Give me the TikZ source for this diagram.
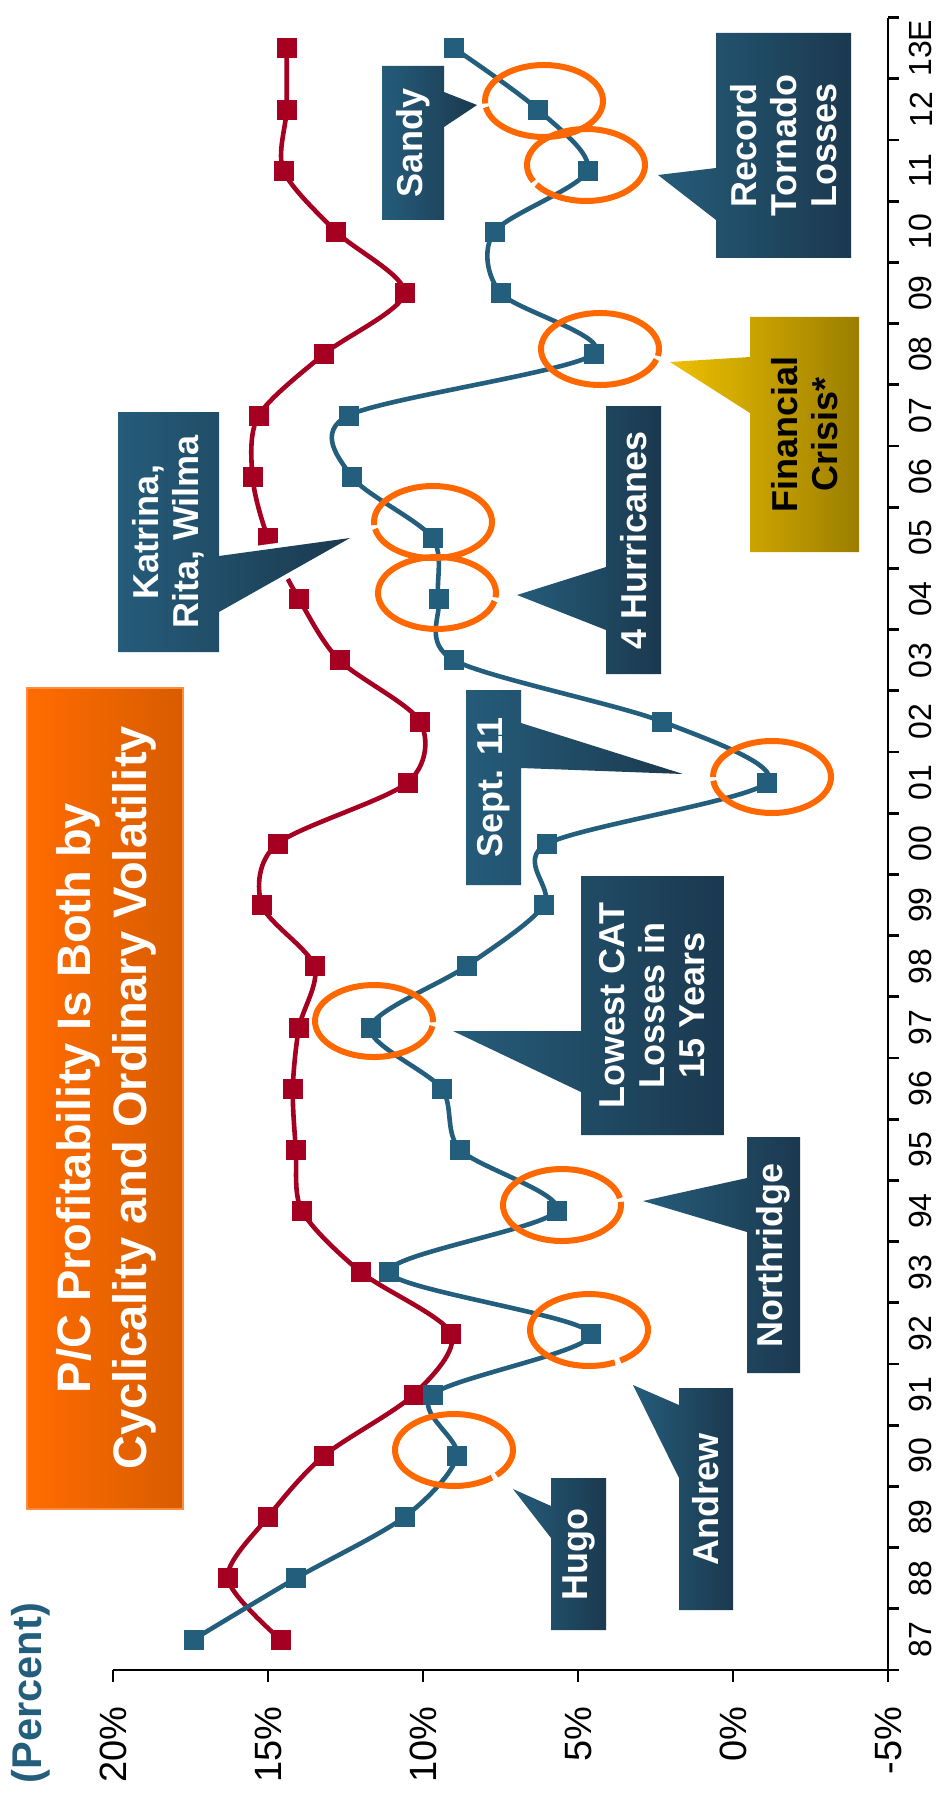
\documentclass[tikz,border=0pt]{standalone}
\usepackage{fontspec}
\usetikzlibrary{plotmarks}
\setmainfont{Liberation Sans}
\definecolor{lossred}{RGB}{165,0,33}
\definecolor{rnwblue}{RGB}{36,94,125}
\definecolor{hoopclr}{RGB}{255,104,0}
\definecolor{calllight}{RGB}{37,92,122}
\definecolor{calldark}{RGB}{27,57,79}
\definecolor{goldlight}{RGB}{238,192,0}
\definecolor{golddark}{RGB}{156,126,0}
\definecolor{titlelight}{RGB}{255,108,0}
\definecolor{titledark}{RGB}{216,92,0}

\begin{document}
\begin{tikzpicture}[x=0.5pt, y=-0.5pt,
    axis/.style={black, line width=1.4pt},
    series/.style={line width=2.3pt, mark=square*, mark size=4.75pt, mark options={line width=0.3pt}},
    hoop/.style={hoopclr, line width=3pt},
    callout/.style={left color=calllight, right color=calldark, preaction={draw=white, line width=5pt, line join=round}},
    goldout/.style={left color=goldlight, right color=golddark, preaction={draw=white, line width=5pt, line join=round}},
    calltext/.style={rotate=90, text=white, align=center, font=\bfseries\fontsize{18}{20}\selectfont},
  ]
  \useasboundingbox (0,0) rectangle (941,1797);

  % Title and unit
  \path[left color=titlelight, right color=titledark, draw={rgb,255:red,255;green,140;blue,60}, line width=0.6pt] (27,688) rectangle (183,1509);
  \node[rotate=90, text=white, align=center, font=\bfseries\fontsize{23.5}{28}\selectfont] (title) at (106,1098) {P/C Profitability Is Both by\\Cyclicality and Ordinary Volatility};
  \node[rotate=90, text=rnwblue, font=\bfseries\fontsize{20.8}{24}\selectfont] (unit) at (31,1693) {(Percent)};

  % Chart in (percent, year) units
  \begin{scope}[shift={(733,1639.4)}, x={(-15.5pt,0pt)}, y={(0pt,30.6pt)}]
    \draw[axis] (20,-0.5) -- (-5,-0.5) -- (-5,26.5);
    \foreach \v [count=\n] in {20,15,...,-5} {
      \draw[axis] (\v,-0.5) -- ++(0,-0.2);
      \node[rotate=90, anchor=east, font=\fontsize{19}{22}\selectfont] (pct\n) at (\v,-0.98) {\v\%};
    }
    \foreach \k in {0,...,27}
      \draw[axis] (-5,\k-0.5) -- ++(-0.35,0);
    \foreach \yr [count=\i from 0] in {87,88,89,90,91,92,93,94,95,96,97,98,99,00,01,02,03,04,05,06,07,08,09,10,11,12,13E}
      \node[rotate=90, font=\fontsize{16}{18}\selectfont] (yr\i) at (-6.06,\i) {\yr};

    % ROE
    \draw[series, lossred] plot[smooth, tension=0.5] coordinates {(14.6,0) (16.3,1) (15.0,2) (13.2,3) (10.3,4) (9.1,5) (12.0,6) (13.9,7) (14.1,8) (14.2,9) (14.0,10) (13.5,11) (15.2,12) (14.7,13) (10.5,14) (10.1,15) (12.7,16) (14.0,17) (15.0,18) (15.5,19) (15.3,20) (13.2,21) (10.6,22) (12.8,23) (14.5,24) (14.4,25) (14.4,26)};
    % RNW
    \draw[series, rnwblue] plot[smooth, tension=0.5] coordinates {(17.4,0) (14.1,1) (10.6,2) (8.9,3) (9.7,4) (4.6,5) (11.1,6) (5.7,7) (8.8,8) (9.4,9) (11.7,10) (8.6,11) (6.1,12) (6.0,13) (-1.1,14) (2.3,15) (9.0,16) (9.5,17) (9.7,18) (12.3,19) (12.4,20) (4.5,21) (7.5,22) (7.7,23) (4.7,24) (6.3,25) (9.0,26)};
  \end{scope}

  % Callouts
  \path[callout] (551,1478) -- (606,1478) -- (606,1630) -- (551,1630) -- (551,1538) -- (513,1489) -- (551,1506) -- cycle;
  \node[calltext] (hugo) at (578.5,1554) {Hugo};
  \path[callout] (679,1388) -- (733,1388) -- (733,1610) -- (679,1610) -- (679,1478) -- (633,1385) -- (679,1405) -- cycle;
  \node[calltext] (andrew) at (706,1499) {Andrew};
  \path[callout] (747,1137) -- (800,1137) -- (800,1373) -- (747,1373) -- (747,1232) -- (643,1201) -- (747,1178) -- cycle;
  \node[calltext] (northridge) at (773.5,1255) {Northridge};
  \path[callout] (581,876) -- (724,876) -- (724,1135) -- (581,1135) -- (581,1092) -- (453,1031) -- (581,1031) -- cycle;
  \node[calltext] (lowest) at (652.5,1005.5) {Lowest CAT\\Losses in\\15 Years};
  \path[callout] (466,690) -- (521,690) -- (521,723) -- (683,774) -- (521,768) -- (521,885) -- (466,885) -- cycle;
  \node[calltext] (sept) at (493.5,787.5) {Sept. 11};
  \path[callout] (606,406) -- (661,406) -- (661,674) -- (606,674) -- (606,630) -- (517,595) -- (606,567) -- cycle;
  \node[calltext] (hurricanes) at (633.5,540) {4 Hurricanes};
  \path[callout] (118,412) -- (219,412) -- (219,556) -- (350,538) -- (219,612) -- (219,652) -- (118,652) -- cycle;
  \node[calltext] (katrina) at (168.5,532) {Katrina,\\Rita, Wilma};
  \path[goldout] (750,317) -- (859,317) -- (859,552) -- (750,552) -- (750,413) -- (670,362) -- (750,357) -- cycle;
  \node[calltext, text=black] (crisis) at (804.5,434.5) {Financial\\Crisis*};
  \path[callout] (716,33) -- (851,33) -- (851,258) -- (716,258) -- (716,220) -- (658,175) -- (716,168) -- cycle;
  \node[calltext] (tornado) at (783.5,145.5) {Record\\Tornado\\Losses};
  \path[callout] (382,66) -- (444,66) -- (444,92) -- (477,105) -- (444,127) -- (444,220) -- (382,220) -- cycle;
  \node[calltext] (sandy) at (413,143) {Sandy};

  % Orange rings
  \foreach \cx/\cy/\g in {454/1450/47, 589/1330/61, 562/1205/-8, 374/1021/5, 772/777/177, 437/593/10, 433/522/172, 600/349/14, 586/165/150, 544/101/173}
    \draw[hoop] (\cx,\cy) ++(\g+3:59 and 36) arc[start angle=\g+3, delta angle=354, x radius=59, y radius=36];

\end{tikzpicture}
\end{document}
